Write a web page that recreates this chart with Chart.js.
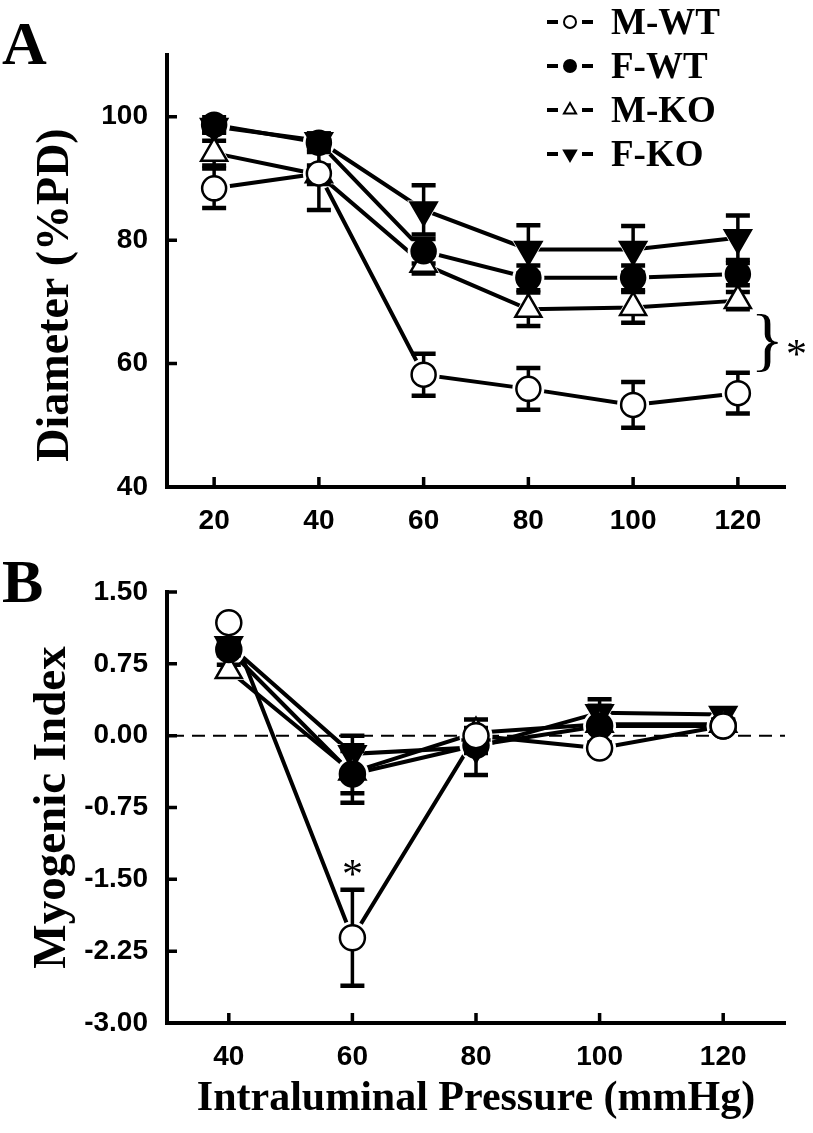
<!DOCTYPE html>
<html lang="en">
<head>
<meta charset="UTF-8">
<title>Diameter and myogenic index</title>
<style>
  body { margin: 0; background: #fff; }
  .panel { position: absolute; left: 0; width: 813px; }
  #wrapA { top: 0; height: 540px; }
  #wrapB { top: 540px; height: 593px; }
</style>
</head>
<body>
<div class="panel" id="wrapA"><canvas id="chartA"></canvas></div>
<div class="panel" id="wrapB"><canvas id="chartB"></canvas></div>

<script src="https://cdn.jsdelivr.net/npm/chart.js"></script>
<script>
// ---- data ----
const seriesNames = ['M-WT', 'F-WT', 'M-KO', 'F-KO'];

// panel A: diameter (%PD)
const pressureA = [20, 40, 60, 80, 100, 120];
const mwtA = [88.4, 90.8, 58.2, 55.9, 53.3, 55.2];
const fwtA = [98.7, 95.8, 78.2, 73.9, 73.9, 74.5];
const mkoA = [94.1, 90.6, 76.1, 68.8, 69.1, 70.2];
const fkoA = [98.4, 96.1, 84.9, 78.5, 78.5, 80.4];
const mwtErrA = [3.2, 5.9, 3.4, 3.4, 3.7, 3.3];
const fwtErrA = [1.2, 1.5, 2.0, 2.0, 2.0, 1.8];
const mkoErrA = [2.0, 1.5, 1.5, 2.7, 2.5, 1.4];
const fkoErrA = [1.0, 1.2, 4.0, 3.9, 3.8, 3.6];
const xTicksA = [20, 40, 60, 80, 100, 120];
const yTicksA = [40, 60, 80, 100];

// panel B: myogenic index
const pressureB = [40, 60, 80, 100, 120];
const mwtB = [1.18, -2.11, 0.0, -0.13, 0.1];
const fwtB = [0.9, -0.4, -0.1, 0.1, 0.1];
const mkoB = [0.68, -0.38, 0.03, 0.12, 0.12];
const fkoB = [0.95, -0.19, -0.12, 0.24, 0.22];
const mwtErrB = [0.05, 0.5, 0.04, 0.05, 0.04];
const fwtErrB = [0.06, 0.3, 0.08, 0.21, 0.05];
const mkoErrB = [0.06, 0.22, 0.05, 0.19, 0.05];
const fkoErrB = [0.05, 0.19, 0.29, 0.14, 0.06];
const xTicksB = [40, 60, 80, 100, 120];
const yTicksB = [1.5, 0.75, 0, -0.75, -1.5, -2.25, -3];

// marker look per series
const markers = [
  { style: 'circle', fill: '#fff', rot: 0 },
  { style: 'circle', fill: '#000', rot: 0 },
  { style: 'triangle', fill: '#fff', rot: 0 },
  { style: 'triangle', fill: '#000', rot: 180 },
];

const sansFont = "'Liberation Sans', Arial, sans-serif";
const serifFont = "'Liberation Serif', 'Times New Roman', serif";

// lines first, then white halos (gap around markers), then the markers
function buildDatasets(xs, ys, errs, circleR, triR) {
  const sets = [];
  ys.forEach((vals, i) => {
    sets.push({
      label: seriesNames[i],
      data: xs.map((x, j) => ({ x: x, y: vals[j] })),
      showLine: true, borderColor: '#000', borderWidth: 4,
      pointRadius: 0, order: 3
    });
  });
  ys.forEach((vals, i) => {
    const m = markers[i];
    const r = m.style === 'circle' ? circleR : triR;
    sets.push({
      label: seriesNames[i] + ' halo',
      data: xs.map((x, j) => ({ x: x, y: vals[j] })),
      showLine: false, pointStyle: m.style, rotation: m.rot,
      pointRadius: r + 4, pointBackgroundColor: '#fff', pointBorderColor: '#fff',
      pointBorderWidth: 0, order: 2,
      errLayer: i === 0, errs: errs, ys: ys, xs: xs
    });
  });
  ys.forEach((vals, i) => {
    const m = markers[i];
    const r = m.style === 'circle' ? circleR : triR;
    sets.push({
      label: seriesNames[i],
      data: xs.map((x, j) => ({ x: x, y: vals[j] })),
      showLine: false, pointStyle: m.style, rotation: m.rot,
      pointRadius: r, pointBackgroundColor: m.fill, pointBorderColor: '#000',
      pointBorderWidth: 2.5, order: 1
    });
  });
  return sets;
}

// error bars, drawn after the halos and before the markers
const errorBars = {
  id: 'errorBars',
  afterDatasetDraw(chart, args) {
    const ds = chart.data.datasets[args.index];
    if (!ds.errLayer) return;
    const { ctx, scales: { x, y } } = chart;
    ctx.save();
    ctx.strokeStyle = '#000';
    ds.ys.forEach((vals, i) => {
      vals.forEach((v, j) => {
        const e = ds.errs[i][j];
        const px = x.getPixelForValue(ds.xs[j]);
        const top = y.getPixelForValue(v + e);
        const bot = y.getPixelForValue(v - e);
        ctx.lineWidth = 3.5;
        ctx.beginPath();
        ctx.moveTo(px, top); ctx.lineTo(px, bot);
        ctx.stroke();
        ctx.lineWidth = 4.5;
        ctx.beginPath();
        ctx.moveTo(px - 12, top); ctx.lineTo(px + 12, top);
        ctx.moveTo(px - 12, bot); ctx.lineTo(px + 12, bot);
        ctx.stroke();
      });
    });
    ctx.restore();
  }
};

// tick marks point inward in the original
const innerTicks = {
  id: 'innerTicks',
  afterDraw(chart) {
    const { ctx, chartArea: { left, bottom }, scales: { x, y } } = chart;
    ctx.save();
    ctx.strokeStyle = '#000';
    ctx.lineWidth = 3.5;
    ctx.beginPath();
    x.ticks.forEach(t => {
      const px = x.getPixelForValue(t.value);
      ctx.moveTo(px, bottom); ctx.lineTo(px, bottom - 10);
    });
    y.ticks.forEach(t => {
      const py = y.getPixelForValue(t.value);
      ctx.moveTo(left, py); ctx.lineTo(left + 10, py);
    });
    ctx.stroke();
    ctx.restore();
  }
};

// panel letters, legend, annotations
const panelText = {
  id: 'panelText',
  afterDraw(chart, args, opts) {
    const { ctx, scales: { x, y } } = chart;
    ctx.save();
    ctx.fillStyle = '#000';
    ctx.font = 'bold 62px ' + serifFont;
    ctx.textBaseline = 'alphabetic';
    ctx.textAlign = 'left';
    ctx.fillText(opts.letter, 2, opts.letterY);

    if (opts.yTitle) {
      ctx.save();
      ctx.translate(56, opts.yTitleY);
      ctx.rotate(-Math.PI / 2);
      ctx.textAlign = 'center';
      ctx.textBaseline = 'middle';
      ctx.font = 'bold 46px ' + serifFont;
      ctx.fillText(opts.yTitle, 0, 0);
      ctx.restore();
    }

    (opts.notes || []).forEach(n => {
      ctx.font = n.font;
      ctx.textAlign = 'center';
      ctx.textBaseline = 'middle';
      ctx.fillText(n.text, x.getPixelForValue(n.x), y.getPixelForValue(n.y));
    });

    if (opts.legend) {
      const rows = [22, 66, 110, 154];
      seriesNames.forEach((name, i) => {
        const m = markers[i];
        const cy = rows[i];
        ctx.strokeStyle = '#000';
        ctx.lineWidth = 4;
        ctx.beginPath();
        ctx.moveTo(547, cy); ctx.lineTo(558, cy);
        ctx.moveTo(582, cy); ctx.lineTo(593, cy);
        ctx.stroke();
        ctx.fillStyle = m.fill;
        ctx.lineWidth = 2;
        Chart.helpers.drawPoint(ctx, {
          pointStyle: m.style, rotation: m.rot,
          radius: m.style === 'circle' ? 6 : 7, borderWidth: 2
        }, 570, cy);
        ctx.fillStyle = '#000';
        ctx.font = 'bold 37px ' + serifFont;
        ctx.textAlign = 'left';
        ctx.textBaseline = 'middle';
        ctx.fillText(name, 611, cy + 2);
      });
    }
    ctx.restore();
  }
};

// y = 0 reference line in panel B
const zeroLine = {
  id: 'zeroLine',
  beforeDatasetsDraw(chart) {
    const { ctx, chartArea: { left, right }, scales: { y } } = chart;
    const py = y.getPixelForValue(0);
    ctx.save();
    ctx.strokeStyle = '#000';
    ctx.lineWidth = 2;
    ctx.setLineDash([13, 8]);
    ctx.beginPath();
    ctx.moveTo(left + 4, py); ctx.lineTo(right, py);
    ctx.stroke();
    ctx.restore();
  }
};

function axisOpts(ticksArr, min, max, fmt, fitSize, isX) {
  return {
    type: 'linear', min: min, max: max,
    grid: { display: false },
    border: { display: true, color: '#000', width: 4 },
    ticks: {
      color: '#000', padding: isX ? 9 : 11,
      font: { family: sansFont, size: 28, weight: 'bold' },
      callback: fmt
    },
    afterBuildTicks: s => { s.ticks = ticksArr.map(v => ({ value: v })); },
    afterFit: s => { if (isX) s.height = fitSize; else s.width = fitSize; }
  };
}

Chart.defaults.animation = false;

new Chart(document.getElementById('chartA'), {
  type: 'scatter',
  data: {
    datasets: buildDatasets(pressureA, [mwtA, fwtA, mkoA, fkoA],
      [mwtErrA, fwtErrA, mkoErrA, fkoErrA], 12, 15)
  },
  plugins: [errorBars, innerTicks, panelText],
  options: {
    responsive: true, maintainAspectRatio: false,
    layout: { padding: { top: 55, right: 28, left: 0, bottom: 0 } },
    plugins: {
      legend: { display: false }, tooltip: { enabled: false },
      panelText: {
        letter: 'A', letterY: 64, legend: true,
        yTitle: 'Diameter (%PD)', yTitleY: 295,
        notes: [
          { text: '}', x: 125.6, y: 63.0, font: '70px ' + serifFont },
          { text: '*', x: 131.2, y: 61.0, font: '42px ' + serifFont }
        ]
      }
    },
    scales: {
      x: axisOpts(xTicksA, 11, 129, v => v, 53, true),
      y: axisOpts(yTicksA, 40, 110, v => v, 167, false)
    }
  }
});

new Chart(document.getElementById('chartB'), {
  type: 'scatter',
  data: {
    datasets: buildDatasets(pressureB, [mwtB, fwtB, mkoB, fkoB],
      [mwtErrB, fwtErrB, mkoErrB, fkoErrB], 12.5, 15)
  },
  plugins: [zeroLine, errorBars, innerTicks, panelText],
  options: {
    responsive: true, maintainAspectRatio: false,
    layout: { padding: { top: 52, right: 28, left: 0, bottom: 0 } },
    plugins: {
      legend: { display: false }, tooltip: { enabled: false },
      panelText: {
        letter: 'B', letterY: 62,
        notes: [
          { text: '*', x: 60, y: -1.48, font: '42px ' + serifFont }
        ]
      }
    },
    scales: {
      x: Object.assign(axisOpts(xTicksB, 30, 130, v => v, 110, true), {
        title: {
          display: true, text: 'Intraluminal Pressure (mmHg)', color: '#000',
          font: { family: serifFont, size: 42, weight: 'bold' },
          padding: { top: 0, bottom: 9 }
        }
      }),
      y: Object.assign(axisOpts(yTicksB, -3, 1.5, v => v.toFixed(2), 167, false), {
        title: {
          display: true, text: 'Myogenic Index', color: '#000',
          font: { family: serifFont, size: 47, weight: 'bold' },
          padding: { top: 25, bottom: 0 }
        }
      })
    }
  }
});
</script>
</body>
</html>
